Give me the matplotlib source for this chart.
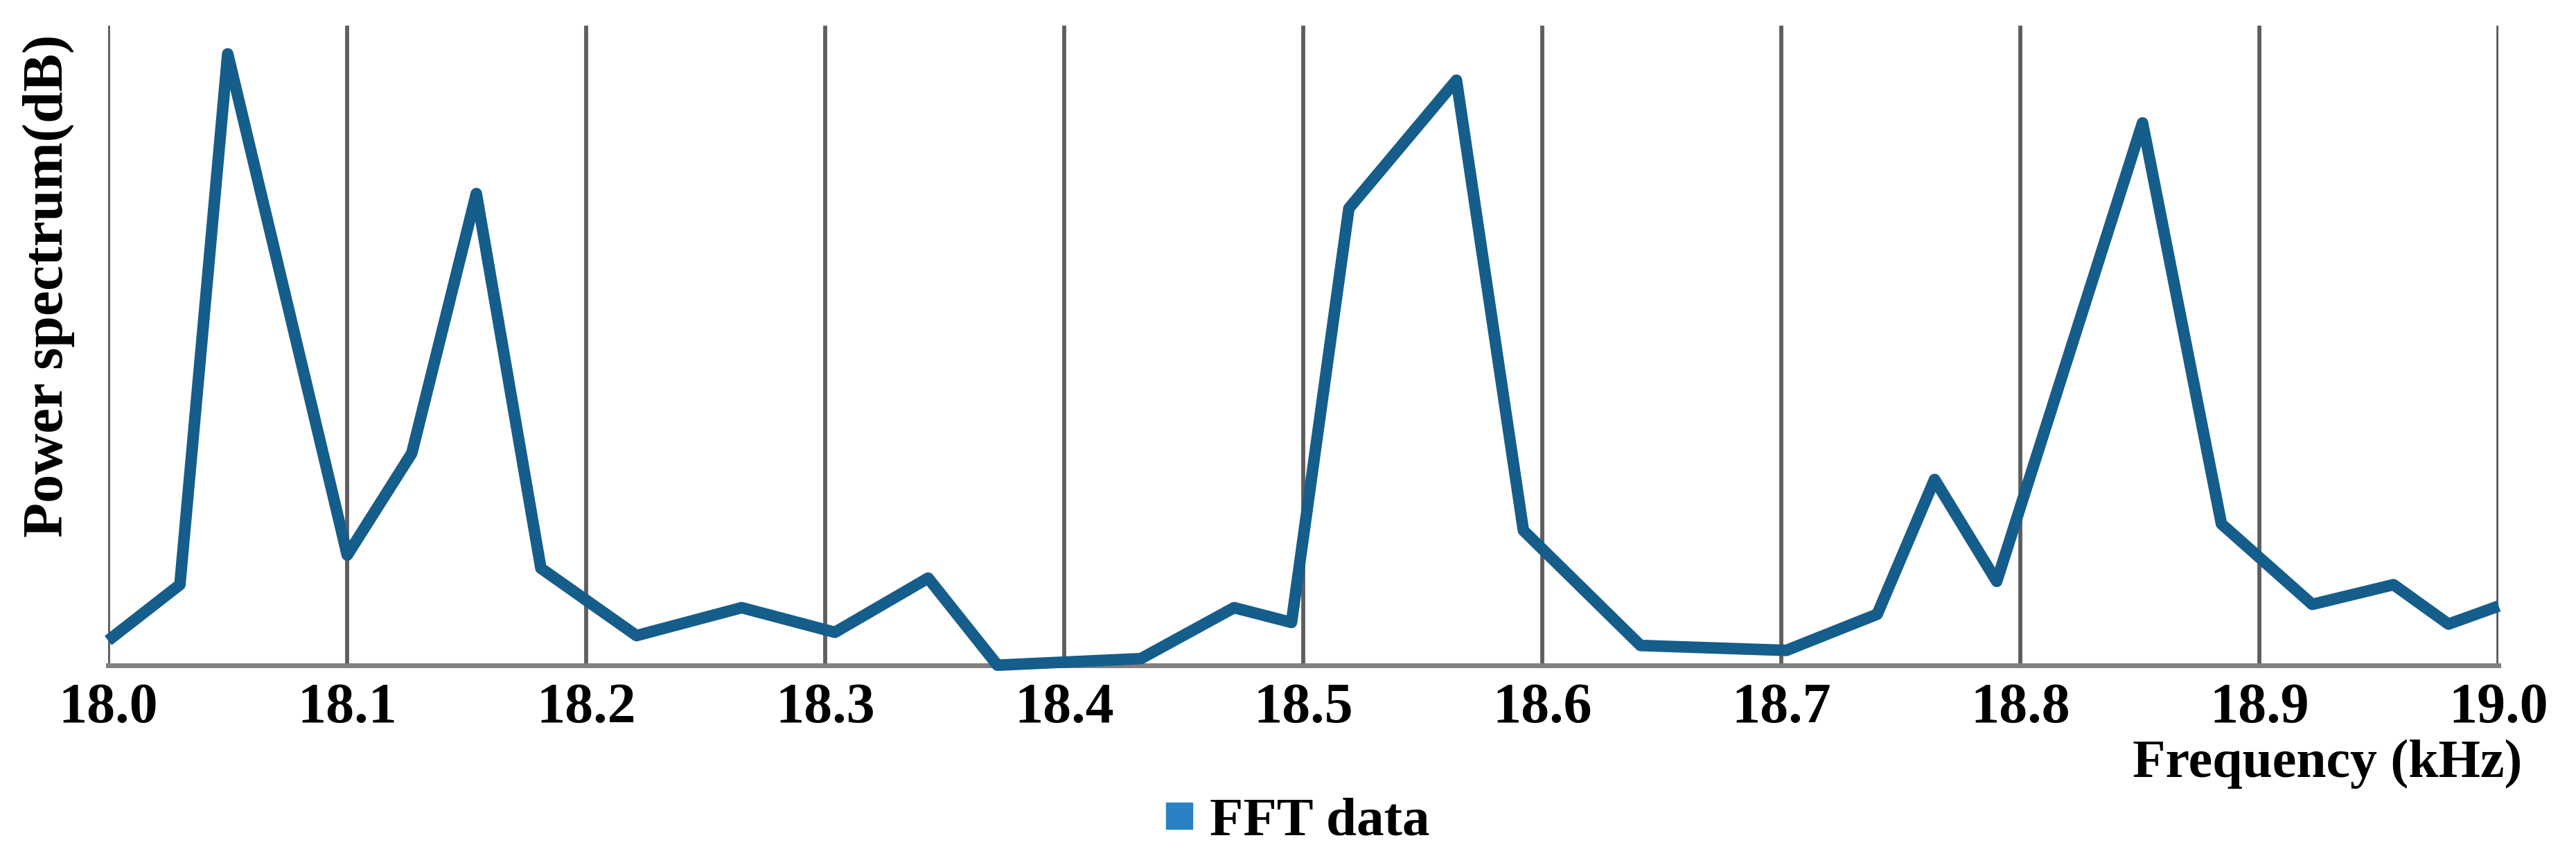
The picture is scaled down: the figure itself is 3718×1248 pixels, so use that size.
"""FFT power spectrum around 18-19 kHz, Excel-like styling."""

import matplotlib

matplotlib.use("Agg")

import matplotlib.pyplot as plt
from matplotlib.lines import Line2D

# frequency (kHz) and relative power (arbitrary dB offset)
freq_khz = [18.000, 18.030, 18.050, 18.100, 18.127, 18.154, 18.181, 18.221,
            18.265, 18.304, 18.343, 18.372, 18.432, 18.471, 18.495, 18.519,
            18.564, 18.592, 18.641, 18.702, 18.740, 18.764, 18.790, 18.851,
            18.884, 18.922, 18.956, 18.979, 19.000]
power_db = [15, 49, 372, 67, 129, 287, 59, 18,
            35, 20, 53, 0, 4, 35, 26, 278,
            356, 82, 12, 9, 31, 113, 51, 330,
            86, 37, 49, 25, 36]

x_ticks = [18.0, 18.1, 18.2, 18.3, 18.4, 18.5, 18.6, 18.7, 18.8, 18.9, 19.0]

LINE_COLOR = "#155d8b"
LEGEND_COLOR = "#2a82c4"
FONT = "Liberation Serif"
FS = 59

fig = plt.figure(figsize=(37.18, 12.48), dpi=100)
ax = fig.add_axes([0.042, 0.231, 0.928, 0.739])

ax.plot(freq_khz, power_db, color=LINE_COLOR, lw=12, solid_joinstyle="round",
        solid_capstyle="butt", clip_on=False, zorder=3)

ax.set_xlim(18.0, 19.0)
ax.set_ylim(0, 389)
ax.set_xticks(x_ticks)
ax.set_xticklabels([f"{t:.1f}" for t in x_ticks], fontfamily=FONT,
                   fontweight="bold", fontsize=FS)
ax.set_yticks([])
ax.tick_params(axis="x", length=0, pad=18)

# vertical gridlines only, like the Excel source
ax.grid(axis="x", color="#5e5e5e", lw=4.2)
for side in ("left", "right", "top"):
    ax.spines[side].set_visible(False)
ax.spines["bottom"].set_color("#808080")
ax.spines["bottom"].set_linewidth(5)

fig.text(0.019, 0.67, "Power spectrum(dB)", rotation=90, ha="center", va="center",
         fontfamily=FONT, fontweight="bold", fontsize=FS)
fig.text(0.979, 0.117, "Frequency (kHz)", ha="right", va="center",
         fontfamily=FONT, fontweight="bold", fontsize=FS - 3)

handle = Line2D([0], [0], marker="s", ls="none", color=LEGEND_COLOR, markersize=28)
fig.legend([handle], ["FFT data"], loc="center", bbox_to_anchor=(0.501, 0.05),
           frameon=False, handletextpad=0.05, handlelength=1.0,
           prop={"family": FONT, "weight": "bold", "size": FS - 2})

fig.savefig("out.png", dpi=100)
